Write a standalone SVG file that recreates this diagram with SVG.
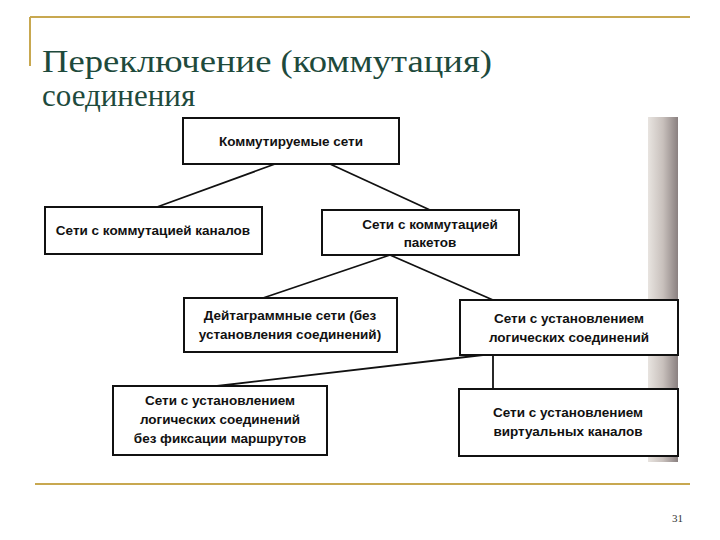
<svg xmlns="http://www.w3.org/2000/svg" width="720" height="540" viewBox="0 0 720 540">
<style>
.b{fill:#fff;stroke:#111;stroke-width:2}
.t{font-family:"Liberation Sans",Arial,sans-serif;font-size:13.5px;font-weight:bold;fill:#111;text-anchor:middle}
.c{stroke:#111;stroke-width:1.8;fill:none}
</style>
<defs><linearGradient id="g" x1="0" x2="1"><stop offset="0" stop-color="#e8e4e0"/><stop offset="0.5" stop-color="#c8c0bc"/><stop offset="1" stop-color="#8a8080"/></linearGradient></defs>
<rect width="720" height="540" fill="#fff"/>
<rect x="648" y="117" width="30" height="345" fill="url(#g)"/>
<line x1="30" y1="17" x2="690" y2="17" stroke="#c8a850" stroke-width="2"/>
<line x1="30" y1="17" x2="30" y2="66" stroke="#c8a850" stroke-width="2"/>
<line x1="35" y1="484" x2="690" y2="484" stroke="#c8a850" stroke-width="2"/>
<text x="42" y="72" font-family="Liberation Serif, 'DejaVu Serif', serif" font-size="31" fill="#1e4a3c" textLength="450" lengthAdjust="spacingAndGlyphs">Переключение (коммутация)</text>
<text x="42" y="106" font-family="Liberation Serif, 'DejaVu Serif', serif" font-size="31" fill="#1e4a3c">соединения</text>
<g id="connectors">
<line class="c" x1="275" y1="164" x2="157" y2="207"/>
<line class="c" x1="330" y1="164" x2="430" y2="210"/>
<line class="c" x1="390" y1="255" x2="263" y2="298"/>
<line class="c" x1="390" y1="255" x2="493" y2="300"/>
<line class="c" x1="483" y1="355" x2="217" y2="386"/>
<line class="c" x1="493" y1="355" x2="493" y2="389"/>
</g>
<g id="n1"><rect class="b" x="183" y="118" width="216" height="46"/><text class="t" x="291" y="146">Коммутируемые сети</text></g>
<g id="n2"><rect class="b" x="45" y="207" width="217" height="47"/><text class="t" x="153" y="235">Сети с коммутацией каналов</text></g>
<g id="n3"><rect class="b" x="322" y="210" width="197" height="45"/><text class="t" x="430" y="229">Сети с коммутацией</text><text class="t" x="430" y="247">пакетов</text></g>
<g id="n4"><rect class="b" x="184" y="298" width="213" height="54"/><text class="t" x="290" y="320">Дейтаграммные сети (без</text><text class="t" x="290" y="339">установления соединений)</text></g>
<g id="n5"><rect class="b" x="460" y="300" width="218" height="55"/><text class="t" x="569" y="323">Сети с установлением</text><text class="t" x="569" y="342">логических соединений</text></g>
<g id="n6"><rect class="b" x="113" y="386" width="214" height="69"/><text class="t" x="220" y="405">Сети с установлением</text><text class="t" x="220" y="424">логических соединений</text><text class="t" x="220" y="443">без фиксации маршрутов</text></g>
<g id="n7"><rect class="b" x="459" y="389" width="219" height="67"/><text class="t" x="568" y="417">Сети с установлением</text><text class="t" x="568" y="436">виртуальных каналов</text></g>
<text x="672" y="522" font-family="Liberation Serif,serif" font-size="11" fill="#333">31</text>
</svg>
